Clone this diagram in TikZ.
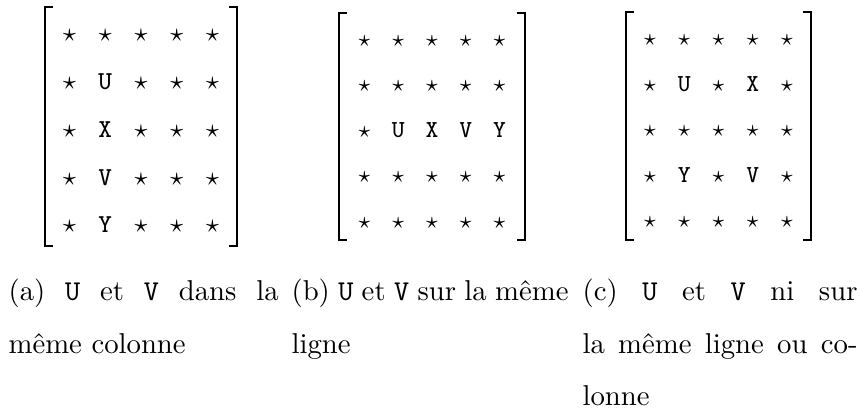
\documentclass[tikz,border=0pt]{standalone}
\usetikzlibrary{matrix}

\begin{document}
\begin{tikzpicture}[x=0.348pt, y=-0.348pt]
    % Define styles
    \tikzstyle{cell} = [inner sep=0pt, text height=7.5pt, text depth=0pt]
    \tikzstyle{grid} = [matrix of nodes, inner ysep=0pt, outer sep=0pt]
    \tikzstyle{bracket} = [line width=0.9pt]
    \tikzstyle{caption} = [anchor=base west, inner sep=0pt]

    \useasboundingbox (0,0) rectangle (860,408);

    % Matrices
    \matrix (ma) [grid, inner xsep=2.3pt, nodes={cell, minimum width=12.44pt, minimum height=16.63pt, font=\fontsize{9}{9}\selectfont}] at (141,126.5) {
        $\star$ & $\star$ & $\star$ & $\star$ & $\star$ \\
        $\star$ & \texttt{U} & $\star$ & $\star$ & $\star$ \\
        $\star$ & \texttt{X} & $\star$ & $\star$ & $\star$ \\
        $\star$ & \texttt{V} & $\star$ & $\star$ & $\star$ \\
        $\star$ & \texttt{Y} & $\star$ & $\star$ & $\star$ \\
    };
    \matrix (mb) [grid, inner xsep=3pt, nodes={cell, minimum width=11.75pt, minimum height=15.8pt, font=\fontsize{8.5}{8.5}\selectfont}] at (432,126.5) {
        $\star$ & $\star$ & $\star$ & $\star$ & $\star$ \\
        $\star$ & $\star$ & $\star$ & $\star$ & $\star$ \\
        $\star$ & \texttt{U} & \texttt{X} & \texttt{V} & \texttt{Y} \\
        $\star$ & $\star$ & $\star$ & $\star$ & $\star$ \\
        $\star$ & $\star$ & $\star$ & $\star$ & $\star$ \\
    };
    \matrix (mc) [grid, inner xsep=2.4pt, nodes={cell, minimum width=11.92pt, minimum height=15.87pt, font=\fontsize{8.5}{8.5}\selectfont}] at (718.5,126) {
        $\star$ & $\star$ & $\star$ & $\star$ & $\star$ \\
        $\star$ & \texttt{U} & $\star$ & \texttt{X} & $\star$ \\
        $\star$ & $\star$ & $\star$ & $\star$ & $\star$ \\
        $\star$ & \texttt{Y} & $\star$ & \texttt{V} & $\star$ \\
        $\star$ & $\star$ & $\star$ & $\star$ & $\star$ \\
    };

    % Brackets
    \draw [bracket] ([xshift=2.8pt]ma.north west) -- (ma.north west) -- (ma.south west) -- ([xshift=2.8pt]ma.south west);
    \draw [bracket] ([xshift=-2.8pt]ma.north east) -- (ma.north east) -- (ma.south east) -- ([xshift=-2.8pt]ma.south east);
    \draw [bracket] ([xshift=2.8pt]mb.north west) -- (mb.north west) -- (mb.south west) -- ([xshift=2.8pt]mb.south west);
    \draw [bracket] ([xshift=-2.8pt]mb.north east) -- (mb.north east) -- (mb.south east) -- ([xshift=-2.8pt]mb.south east);
    \draw [bracket] ([xshift=2.8pt]mc.north west) -- (mc.north west) -- (mc.south west) -- ([xshift=2.8pt]mc.south west);
    \draw [bracket] ([xshift=-2.8pt]mc.north east) -- (mc.north east) -- (mc.south east) -- ([xshift=-2.8pt]mc.south east);

    % Captions
    \node [caption] (capa1) at (8,300) {\makebox[94pt][s]{(a) \texttt{U} et \texttt{V} dans la}};
    \node [caption] (capa2) at (8,353) {même colonne};
    \node [caption] (capb1) at (291,300) {\makebox[96.4pt][s]{(b) \texttt{U} et \texttt{V} sur la même}};
    \node [caption] (capb2) at (291,353) {ligne};
    \node [caption] (capc1) at (582,300) {\makebox[95.7pt][s]{(c) \texttt{U} et \texttt{V} ni sur}};
    \node [caption] (capc2) at (582,353) {\makebox[95.7pt][s]{la même ligne ou co-}};
    \node [caption] (capc3) at (582,405) {lonne};
\end{tikzpicture}
\end{document}
